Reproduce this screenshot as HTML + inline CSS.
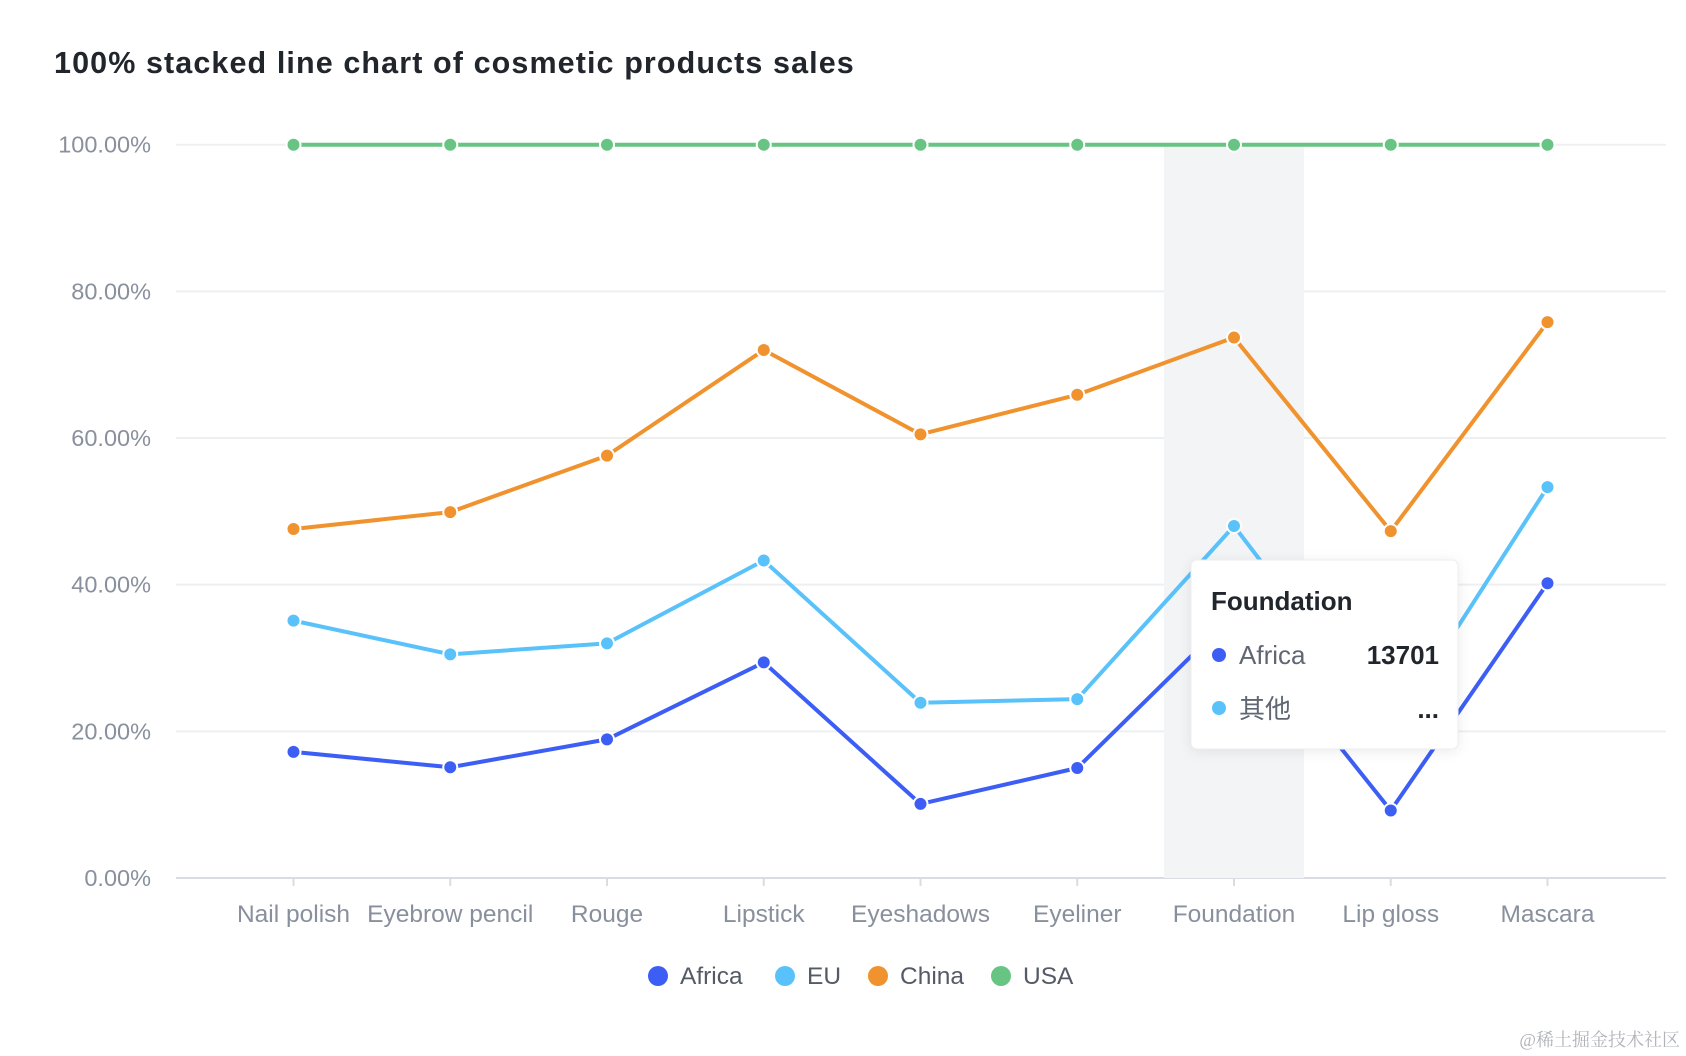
<!DOCTYPE html>
<html><head><meta charset="utf-8">
<style>
body{margin:0;background:#fff;width:1686px;height:1056px;overflow:hidden;font-family:"Liberation Sans","Noto Sans CJK SC",sans-serif;}
svg{display:block}
</style></head>
<body>
<svg id="chart" width="1686" height="1056">
<text x="54" y="73" font-size="30.5" font-weight="bold" letter-spacing="1.1" fill="#21252c">100% stacked line chart of cosmetic products sales</text>
<g id="grid"></g>
<g id="band"></g>
<g id="lines"></g>
<g id="xlabels"></g>
<g id="legend"></g>
<g id="tooltip">
<rect x="1191" y="560" width="267" height="189" rx="6" fill="#fff" stroke="#eceef1" style="filter:drop-shadow(0 2px 6px rgba(0,0,0,0.08))"/>
<text x="1211" y="610" font-size="26" font-weight="bold" fill="#21252c">Foundation</text>
<circle cx="1219" cy="655" r="7" fill="#3d5ef5"/>
<text x="1239" y="664" font-size="26" fill="#606773">Africa</text>
<text x="1439" y="664" font-size="26" font-weight="bold" fill="#21252c" text-anchor="end">13701</text>
<circle cx="1219" cy="708" r="7" fill="#5ac2fa"/>
<text x="1239" y="718" font-size="26" fill="#606773">其他</text>
<text x="1439" y="718" font-size="26" font-weight="bold" fill="#21252c" text-anchor="end">...</text>
</g>
<text x="1680" y="1046" font-size="18" fill="#b0b3b8" text-anchor="end" font-family="Liberation Serif,Noto Serif CJK SC,serif">@稀土掘金技术社区</text>
</svg>
<script>
const categories=["Nail polish","Eyebrow pencil","Rouge","Lipstick","Eyeshadows","Eyeliner","Foundation","Lip gloss","Mascara"];
const africa=[17.2,15.1,18.9,29.4,10.1,15.0,36.0,9.2,40.2];
const eu=[35.1,30.5,32.0,43.3,23.9,24.4,48.0,20.0,53.3];
const china=[47.6,49.9,57.6,72.0,60.5,65.9,73.7,47.3,75.8];
const usa=[100,100,100,100,100,100,100,100,100];
const yTicks=[0,20,40,60,80,100];
const seriesNames=["Africa","EU","China","USA"];
const colors=["#3d5ef5","#5ac2fa","#f0932e","#67c482"];
const NS="http://www.w3.org/2000/svg";
const y0=878,y1=144.7,left=176,right=1666;
const xs=i=>293.5+i*156.75;
const ys=v=>y0-(v/100)*(y0-y1);
function mk(tag,attrs,parent){const e=document.createElementNS(NS,tag);for(const k in attrs)e.setAttribute(k,attrs[k]);parent.appendChild(e);return e;}
const grid=document.getElementById('grid');
yTicks.forEach(t=>{
 const l=mk('line',{x1:left,x2:right,y1:ys(t),y2:ys(t),stroke:t===0?'#d9dde3':'#eeeff1','stroke-width':2},grid);
 
 
 const tx=mk('text',{x:151,y:ys(t)+8,'font-size':23.5,fill:'#89909d','text-anchor':'end'},grid);
 tx.textContent=t.toFixed(2)+'%';
 
 
});
const band=document.getElementById('band');
const b=mk('rect',{x:xs(6)-70,y:y1,width:140,height:y0-y1,fill:'#f3f4f6'},band);


const xl=document.getElementById('xlabels');
categories.forEach((c,i)=>{
 mk('line',{x1:xs(i),x2:xs(i),y1:y0,y2:y0+8,stroke:'#d9dde3','stroke-width':2},xl);
 const t=mk('text',{x:xs(i),y:922,'font-size':24.5,fill:'#89909d','text-anchor':'middle'},xl);
 t.textContent=c;
 
 
});
const lines=document.getElementById('lines');
[africa,eu,china,usa].forEach((s,k)=>{
 const g=mk('g',{},lines);
 
 
 const p=mk('polyline',{points:s.map((v,i)=>xs(i)+','+ys(v)).join(' '),fill:'none',stroke:colors[k],'stroke-width':4,'stroke-linejoin':'round'},g);
 
 
 s.forEach((v,i)=>{
  const c=mk('circle',{cx:xs(i),cy:ys(v),r:7,fill:colors[k],stroke:'#fff','stroke-width':2},g);
  
  
 });
});
const lg=document.getElementById('legend');
const lx=[658,785,878,1001];
seriesNames.forEach((n,k)=>{
 const g=mk('g',{},lg);
 
 
 mk('circle',{cx:lx[k],cy:976,r:10,fill:colors[k]},g);
 const t=mk('text',{x:lx[k]+22,y:984,'font-size':24.5,fill:'#555b66'},g);
 t.textContent=n;
});
</script>
</body></html>
